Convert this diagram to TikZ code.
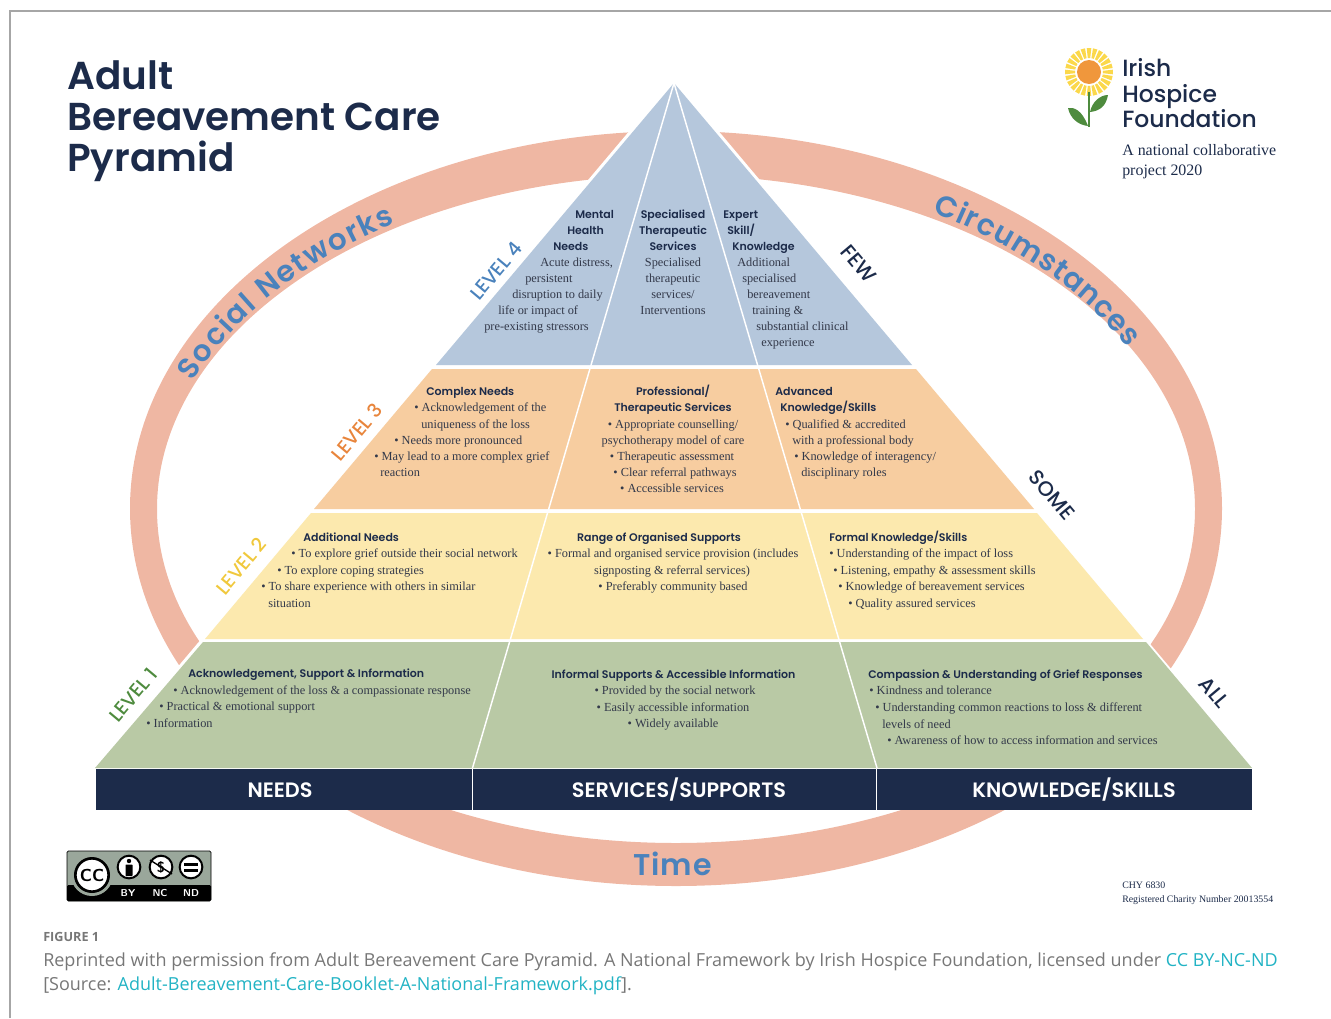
\documentclass[tikz,border=0pt]{standalone}
\usepackage{fontspec}
\usetikzlibrary{calc}
\usetikzlibrary{positioning}
\usetikzlibrary{decorations.text}
\setmainfont{Liberation Serif}
\newfontfamily\headfont{Poppins}[UprightFont=* SemiBold]
\newfontfamily\midfont{Poppins}[UprightFont=* Medium]
\newfontfamily\capfont{Open Sans}
\definecolor{navy}{HTML}{1C2B4A}
\definecolor{ringc}{HTML}{EFB7A3}
\definecolor{ringtext}{HTML}{4A82BC}
\definecolor{lfour}{HTML}{B5C7DC}
\definecolor{lthree}{HTML}{F7CDA0}
\definecolor{ltwo}{HTML}{FCE9AE}
\definecolor{lone}{HTML}{B9C9A5}
\definecolor{bodyc}{HTML}{33394A}
\definecolor{capgrey}{HTML}{777777}
\definecolor{linkc}{HTML}{22B3C4}
\definecolor{ccgrey}{HTML}{9AA79B}
\definecolor{levthree}{HTML}{E8853C}
\definecolor{levtwo}{HTML}{F0C83C}
\definecolor{levone}{HTML}{4E8B3E}
\definecolor{sunc}{HTML}{FBD84B}
\definecolor{sunmid}{HTML}{F0973C}
\tikzset{
	txt/.style={inner sep=0pt, anchor=base west, text=bodyc, font=\fontsize{9.25}{11}\selectfont},
	ctxt/.style={txt, anchor=base},
	hd/.style={inner sep=0pt, anchor=base west, text=navy, font=\headfont\fontsize{8.25}{11}\selectfont},
	chd/.style={hd, anchor=base},
	lev/.style={inner sep=0pt, font=\midfont\fontsize{14.4}{15}\selectfont},
	amount/.style={inner sep=0pt, text=navy, rotate=-50, font=\midfont\fontsize{15.5}{17}\selectfont},
	barlabel/.style={inner sep=0pt, text=white, font=\headfont\fontsize{15.6}{18}\selectfont},
	title/.style={inner sep=0pt, anchor=base west, text=navy, font=\headfont\fontsize{29.2}{36}\selectfont},
	logo/.style={inner sep=0pt, anchor=base west, text=navy, font=\midfont\fontsize{17.6}{22}\selectfont},
	capt/.style={inner sep=0pt, anchor=base west, text=capgrey, font=\capfont\fontsize{13.5}{16}\selectfont},
	ringlabel/.style={decorate, decoration={text along path, text align={fit to path}, text={|\headfont\fontsize{22}{26}\selectfont\color{ringtext}|#1}}},
	divider/.style={white, line width=1.1pt},
	ccring/.style={circle, draw=black, fill=white, line width=1.5pt, inner sep=0pt, minimum size=17pt}
}
\begin{document}
\begin{tikzpicture}[x=0.75pt,y=-0.75pt]
	\useasboundingbox (0,0) rectangle (1331,1018);
	\draw[gray!70, line width=0.8pt] (10,1018) -- (10,11) -- (1331,11);

	\fill[ringc, even odd rule] (676,508.5) circle[x radius=546, y radius=377.5] (676,509) circle[x radius=519, y radius=334];
	\path[ringlabel={Social Networks}]
		plot[domain=158:122.6, samples=40] ({676+521*cos(\x)},{508-338*sin(\x)});
	\path[ringlabel={Circumstances}]
		plot[domain=59.9:28, samples=40] ({676+512*cos(\x)},{508-342*sin(\x)});
	\node[inner sep=0pt, anchor=base west, text=ringtext, font=\headfont\fontsize{22.5}{26}\selectfont] (time) at (633,875) {T\kern1pt i\kern0pt m\kern1pt e};

	\fill[white] (674,78) -- (90,771) -- (1257,771) -- cycle;
	\coordinate (apex) at (674,83);
	\coordinate (divl) at (472.5,768);
	\coordinate (divr) at (877,768);
	\fill[lfour] (apex) -- (436,365) -- (912,365) -- cycle;
	\fill[lthree] (432,369) -- (314,509) -- (1034,509) -- (916,369) -- cycle;
	\fill[ltwo] (311,513) -- (205,639) -- (1143,639) -- (1037,513) -- cycle;
	\fill[lone] (203,642) -- (95,768) -- (1252,768) -- (1146,642) -- cycle;
	\draw[divider] (apex) -- (divl);
	\draw[divider] (apex) -- (divr);

	\fill[navy] (96,769) rectangle (1252,810);
	\draw[white, line width=0.7pt] (472,769) -- (472,810);
	\draw[white, line width=0.7pt] (876,769) -- (876,810);
	\node[barlabel] (needs) at (280,790) {NEEDS};
	\node[barlabel] (services) at (679,790) {SERVICES/SUPPORTS};
	\node[barlabel] (skills) at (1074,790) {KNOWLEDGE/SKILLS};

	\node[title] (t1) at (67,89) {Adult};
	\node[title] (t2) at (67,130) {Bereavement Care};
	\node[title] (t3) at (67,171) {Pyramid};

	\node[lev, text=ringtext, rotate=50] (lev4) at (496,271) {LEVEL 4};
	\node[lev, text=levthree, rotate=50] (lev3) at (357,432) {LEVEL 3};
	\node[lev, text=levtwo, rotate=50] (lev2) at (241,566) {LEVEL 2};
	\node[lev, text=levone, rotate=50] (lev1) at (133,695) {LEVEL 1};
	\node[amount] (few) at (859,264) {FEW};
	\node[amount] (some) at (1052,495) {SOME};
	\node[amount] (all) at (1214,692) {ALL};

	\node[hd] (a1) at (575,218) {Mental};
	\node[hd] (a2) at (567,234) {Health};
	\node[hd] (a3) at (553,250) {Needs};
	\node[txt] (a4) at (540,266) {Acute distress,};
	\node[txt] (a5) at (525,282) {persistent};
	\node[txt] (a6) at (512,298) {disruption to daily};
	\node[txt] (a7) at (498,314) {life or impact of};
	\node[txt] (a8) at (484,330) {pre-existing stressors};
	\node[chd] (b1) at (673,218) {Specialised};
	\node[chd] (b2) at (673,234) {Therapeutic};
	\node[chd] (b3) at (673,250) {Services};
	\node[ctxt] (b4) at (673,266) {Specialised};
	\node[ctxt] (b5) at (673,282) {therapeutic};
	\node[ctxt] (b6) at (673,298) {services/};
	\node[ctxt] (b7) at (673,314) {Interventions};
	\node[hd] (d1) at (723,218) {Expert};
	\node[hd] (d2) at (727,234) {Skill/};
	\node[hd] (d3) at (732,250) {Knowledge};
	\node[txt] (d4) at (737,266) {Additional};
	\node[txt] (d5) at (742,282) {specialised};
	\node[txt] (d6) at (747,298) {bereavement};
	\node[txt] (d7) at (752,314) {training \&};
	\node[txt] (d8) at (756,330) {substantial clinical};
	\node[txt] (d9) at (761,346) {experience};

	\node[hd] (e1) at (426,395) {Complex Needs};
	\node[txt] (e2) at (414,411) {• Acknowledgement of the};
	\node[txt] (e3) at (421,428) {uniqueness of the loss};
	\node[txt] (e4) at (394,444) {• Needs more pronounced};
	\node[txt] (e5) at (374,460) {• May lead to a more complex grief};
	\node[txt] (e6) at (380,476) {reaction};
	\node[chd] (f1) at (673,395) {Professional/};
	\node[chd] (f2) at (673,411) {Therapeutic Services};
	\node[ctxt] (f3) at (673,428) {• Appropriate counselling/};
	\node[ctxt] (f4) at (673,444) {psychotherapy model of care};
	\node[ctxt] (f5) at (672,460) {• Therapeutic assessment};
	\node[ctxt] (f6) at (675,476) {• Clear referral pathways};
	\node[ctxt] (f7) at (672,492) {• Accessible services};
	\node[hd] (g1) at (775,395) {Advanced};
	\node[hd] (g2) at (780,411) {Knowledge/Skills};
	\node[txt] (g3) at (785,428) {• Qualified \& accredited};
	\node[txt] (g4) at (792,444) {with a professional body};
	\node[txt] (g5) at (794,460) {• Knowledge of interagency/};
	\node[txt] (g6) at (801,476) {disciplinary roles};

	\node[hd] (h1) at (303,541) {Additional Needs};
	\node[txt] (h2) at (291,557) {• To explore grief outside their social network};
	\node[txt] (h3) at (277,574) {• To explore coping strategies};
	\node[txt] (h4) at (261,590) {• To share experience with others in similar};
	\node[txt] (h5) at (268,607) {situation};
	\node[chd] (i1) at (659,541) {Range of Organised Supports};
	\node[ctxt] (i2) at (673,557) {• Formal and organised service provision (includes};
	\node[ctxt] (i3) at (672,574) {signposting \& referral services)};
	\node[ctxt] (i4) at (673,590) {• Preferably community based};
	\node[hd] (j1) at (829,541) {Formal Knowledge/Skills};
	\node[txt] (j2) at (829,557) {• Understanding of the impact of loss};
	\node[txt] (j3) at (833,574) {• Listening, empathy \& assessment skills};
	\node[txt] (j4) at (838,590) {• Knowledge of bereavement services};
	\node[txt] (j5) at (848,607) {• Quality assured services};

	\node[hd] (k1) at (188,677) {Acknowledgement, Support \& Information};
	\node[txt] (k2) at (173,694) {• Acknowledgement of the loss \& a compassionate response};
	\node[txt] (k3) at (159,710) {• Practical \& emotional support};
	\node[txt] (k4) at (146,727) {• Information};
	\node[chd] (m1) at (673.5,678) {Informal Supports \& Accessible Information};
	\node[ctxt] (m2) at (675,694) {• Provided by the social network};
	\node[ctxt] (m3) at (673,711) {• Easily accessible information};
	\node[ctxt] (m4) at (673,727) {• Widely available};
	\node[hd] (n1) at (868,678) {Compassion \& Understanding of Grief Responses};
	\node[txt] (n2) at (869,694) {• Kindness and tolerance};
	\node[txt] (n3) at (875,711) {• Understanding common reactions to loss \& different};
	\node[txt] (n4) at (882,728) {levels of need};
	\node[txt] (n5) at (887,744) {• Awareness of how to access information and services};

	\coordinate (sun) at (1089,72);
	\foreach \a in {0,15,...,345}
		\fill[sunc] ($(sun)+(\a-5:14)$) -- ($(sun)+(\a-5.5:24)$) -- ($(sun)+(\a+5.5:24)$) -- ($(sun)+(\a+5:14)$) -- cycle;
	\fill[sunmid] (sun) circle[radius=12];
	\draw[levone, line width=1.5pt] (1089,92) -- (1089,127);
	\fill[levone] (1088,126) .. controls (1082,110) and (1074,107) .. (1068,108) .. controls (1070,118) and (1078,125) .. (1088,126) -- cycle;
	\fill[levone] (1090,112) .. controls (1092,102) and (1100,95) .. (1108,95) .. controls (1106,106) and (1100,111) .. (1090,112) -- cycle;
	\node[logo] (l1) at (1122,76) {Irish};
	\node[logo] (l2) at (1122,102) {Hospice};
	\node[logo] (l3) at (1122,127) {Foundation};
	\node[inner sep=0pt, anchor=base west, text=navy, font=\fontsize{11.95}{15}\selectfont] (l4) at (1122,155) {A national collaborative};
	\node[inner sep=0pt, anchor=base west, text=navy, font=\fontsize{11.95}{15}\selectfont] (l5) at (1122,175) {project 2020};
	\node[inner sep=0pt, anchor=base west, text=navy, font=\fontsize{7.4}{9}\selectfont] (chy) at (1122,888) {CHY 6830};
	\node[inner sep=0pt, anchor=base west, text=navy, font=\fontsize{7.4}{9}\selectfont] (reg) at (1122,902) {Registered Charity Number 20013554};

	\fill[ccgrey, draw=black, line width=0.6pt, rounded corners=1pt] (67,851) rectangle (211,901);
	\fill[black, rounded corners=1pt] (67,885) rectangle (211,901);
	\fill[ccgrey] (92,875) circle[radius=21];
	\node[ccring, minimum size=25pt, line width=2pt] (cc) at (92,875) {\sffamily\bfseries\fontsize{13}{13}\selectfont CC};
	\node[ccring] (by) at (129,867) {};
	\node[ccring] (nc) at (161,867) {\sffamily\bfseries\fontsize{11}{11}\selectfont\$};
	\node[ccring] (nd) at (191,867) {};
	\fill[black] (129,861) circle[radius=2.2];
	\fill[black, rounded corners=0.5pt] (125.5,864.5) rectangle (132.5,876);
	\draw[black, line width=1pt] (150,860) -- (172,874);
	\fill[black] (184,862.5) rectangle (198,865.5);
	\fill[black] (184,868.5) rectangle (198,871.5);
	\node[inner sep=0pt, text=white, font=\sffamily\bfseries\fontsize{7.5}{8}\selectfont] (byt) at (128,893) {BY};
	\node[inner sep=0pt, text=white, font=\sffamily\bfseries\fontsize{7.5}{8}\selectfont] (nct) at (160,893) {NC};
	\node[inner sep=0pt, text=white, font=\sffamily\bfseries\fontsize{7.5}{8}\selectfont] (ndt) at (191,893) {ND};

	\node[capt, font=\capfont\bfseries\fontsize{9.5}{11}\selectfont] (figno) at (43,941) {FIGURE 1};
	\node[capt] (cap1) at (43,966) {Reprinted with permission from Adult Bereavement Care Pyramid. A National Framework by Irish Hospice Foundation, licensed under \textcolor{linkc}{CC BY-NC-ND}};
	\node[capt] (cap2) at (43,990) {[Source: \textcolor{linkc}{Adult-Bereavement-Care-Booklet-A-National-Framework.pdf}].};
\end{tikzpicture}
\end{document}
